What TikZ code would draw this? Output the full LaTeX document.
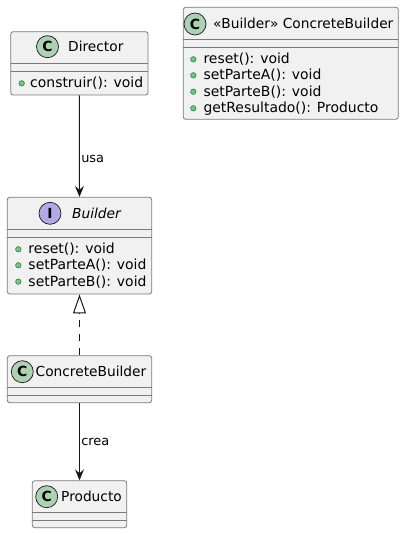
\documentclass[tikz,border=0pt]{standalone}
\usepackage{fontspec}
\setmainfont{DejaVu Sans}
\usetikzlibrary{arrows.meta}
\definecolor{umlfill}{HTML}{F1F1F1}
\definecolor{umlline}{HTML}{181818}
\definecolor{umlframe}{HTML}{7A7A7A}
\definecolor{classC}{HTML}{ADD1B2}
\definecolor{ifaceI}{HTML}{B4A7E5}
\definecolor{dotfill}{HTML}{84BE84}
\definecolor{dotline}{HTML}{038048}
\tikzset{
  classbox/.style={draw=umlframe, fill=umlfill, line width=0.8bp, rounded corners=2.5bp, inner sep=0pt},
  sepline/.style={draw=umlframe, line width=0.8bp},
  badge/.style={circle, draw=umlline, line width=0.7bp, minimum size=22bp, inner sep=0pt, font=\fontsize{14}{14}\selectfont\bfseries},
  title/.style={anchor=base west, inner sep=0pt, font=\fontsize{13.8}{16}\selectfont},
  member/.style={anchor=base west, inner sep=0pt, font=\fontsize{14}{16}\selectfont},
  pubdot/.style={circle, draw=dotline, fill=dotfill, minimum size=5.5bp, inner sep=0pt, line width=0.5bp},
  lbl/.style={anchor=west, inner sep=0pt, xshift=1.3bp, font=\fontsize{13}{13}\selectfont},
  assoc/.style={draw=umlline, line width=1bp, -{Stealth[length=11bp, width=9bp, inset=4bp]}},
  realize/.style={draw=umlline, line width=1bp, dash pattern=on 7bp off 7bp, -{Triangle[open, length=19bp, width=13bp, fill=white]}},
}
\begin{document}
\begin{tikzpicture}[x=1bp, y=-1bp]
\useasboundingbox[fill=white] (0,0) rectangle (405,534);

% class boxes
\node[classbox, minimum width=137.3bp, minimum height=63.3bp] (director) at (79.4,63.35) {};
\node[classbox, minimum width=144.4bp, minimum height=96.7bp] (bld) at (79.5,245.65) {};
\node[classbox, minimum width=144.4bp, minimum height=47bp] (cb) at (79.5,379.2) {};
\node[classbox, minimum width=94.4bp, minimum height=47bp] (prod) at (79.5,504.2) {};
\node[classbox, minimum width=215bp, minimum height=112bp] (cbr) at (290.8,63.3) {};

% compartments
\draw[sepline] (10.7,63.3) -- (148,63.3) (10.7,71.7) -- (148,71.7);
\draw[sepline] (7.3,229.3) -- (151.7,229.3) (7.3,237.7) -- (151.7,237.7);
\draw[sepline] (7.3,387.7) -- (151.7,387.7) (7.3,395.3) -- (151.7,395.3);
\draw[sepline] (32.3,512.3) -- (126.7,512.3) (32.3,520) -- (126.7,520);
\draw[sepline] (183.3,39.3) -- (398.3,39.3) (183.3,47.7) -- (398.3,47.7);

% headers
\node[badge, fill=classC] (directorC) at (47.5,46.7) {C};
\node[title] (directorName) at (68,51.6) {Director};
\node[badge, fill=ifaceI] (bldI) at (50,213.3) {I};
\node[title] (bldName) at (72,218.2) {\itshape Builder};
\node[badge, fill=classC] (cbC) at (22.3,371.7) {C};
\node[title] (cbName) at (35.5,376.6) {ConcreteBuilder};
\node[badge, fill=classC] (prodC) at (46.7,496.7) {C};
\node[title] (prodName) at (61,501.6) {Producto};
\node[badge, fill=classC] (cbrC) at (195,24) {C};
\node[title] (cbrName) at (213,28.9) {«Builder» ConcreteBuilder};

% members
\node[pubdot] (directorDot) at (21.7,83.3) {};
\node[member] (directorM) at (30,87.8) {construir(): void};
\foreach \y/\txt [count=\i] in {249.3/reset(): void, 265.3/setParteA(): void, 281.7/setParteB(): void}{
  \node[pubdot] (bldDot\i) at (18.3,\y) {};
  \node[member] (bldM\i) at (28.3,\y+4.5) {\txt};
}
\foreach \y/\txt [count=\i] in {59.3/reset(): void, 75.3/setParteA(): void, 91.7/setParteB(): void, 108.3/getResultado(): Producto}{
  \node[pubdot] (cbrDot\i) at (193.3,\y) {};
  \node[member] (cbrM\i) at (203.3,\y+4.5) {\txt};
}

% relations
\draw[assoc] (director) -- (bld) node[lbl, pos=0.63] (usaLbl) {usa};
\draw[realize] (cb) -- (bld);
\draw[assoc] (cb) -- (prod) node[lbl, pos=0.5] (creaLbl) {crea};
\end{tikzpicture}
\end{document}
